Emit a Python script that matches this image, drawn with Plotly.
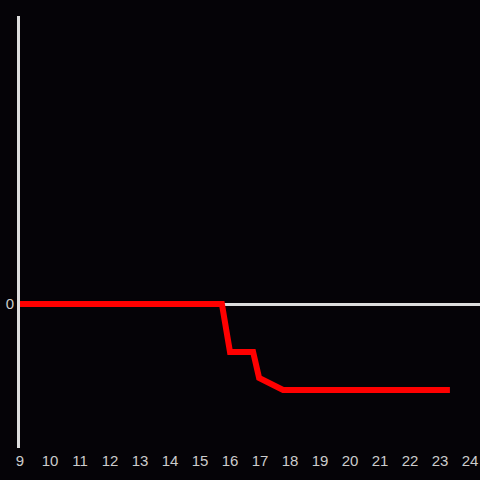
import plotly.graph_objects as go

hours = [9, 15.73, 16.0, 16.77, 16.97, 17.77, 23.33]
values = [0, 0, -0.333, -0.333, -0.514, -0.597, -0.597]
x_ticks = list(range(9, 25))

fig = go.Figure()
fig.add_trace(go.Scatter(x=hours, y=values, mode="lines",
                         line=dict(color="#ff0000", width=6), hoverinfo="skip"))
fig.update_layout(
    width=480, height=480,
    paper_bgcolor="#050307", plot_bgcolor="#050307",
    margin=dict(l=20, r=0, t=16, b=32),
    showlegend=False,
    font=dict(family="Liberation Sans, Arial, sans-serif", size=15, color="#cccccc"),
    xaxis=dict(range=[9, 24.333], tickvals=x_ticks, showgrid=False, zeroline=False,
               showline=False, ticks="", ticklabelstandoff=2,
               tickfont=dict(size=15, color="#cccccc")),
    yaxis=dict(range=[-1, 2], tickvals=[0], showgrid=False, zeroline=True,
               zerolinecolor="#dddddd", zerolinewidth=3, showline=True,
               linecolor="#dddddd", linewidth=3, ticks="",
               tickfont=dict(size=15, color="#cccccc")),
)
fig.write_html("out.html", config={"displayModeBar": False},
               post_script="document.body.style.margin='0';document.body.style.overflow='hidden';")
